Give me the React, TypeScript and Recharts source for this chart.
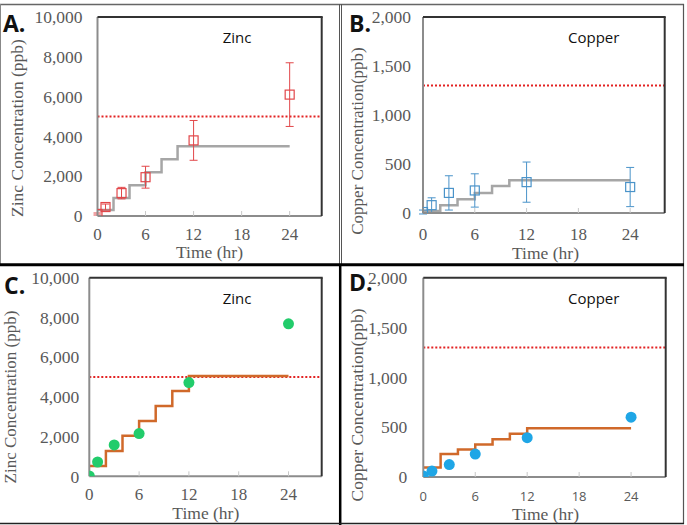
import React from 'react';
import { ComposedChart, Line, Scatter, ErrorBar, XAxis, YAxis, ReferenceLine } from 'recharts';

// sampling times (hr) for measured / predicted points
const HOURS = [0, 1, 3, 6, 12, 24];
// step boundaries for the model curves
const STEP_HOURS_TOP = [0, 2, 4, 6, 8, 10, 24];
const STEP_HOURS_BOTTOM = [0, 2, 4, 6, 8, 10, 12, 24];
const TIME_TICKS = [0, 6, 12, 18, 24];

const ZINC_TICKS = [0, 2000, 4000, 6000, 8000, 10000];
const COPPER_TICKS = [0, 500, 1000, 1500, 2000];
const ZINC_LIMIT = 5000;
const COPPER_LIMIT = 1300;

// A. zinc, measured with std. dev.
const zincMeasured = [100, 450, 1150, 1950, 3800, 6100];
const zincMeasuredSd = [50, 150, 290, 550, 1000, 1600];
const zincStepA = [300, 900, 1550, 2200, 2850, 3500, 3500];

// B. copper, measured with std. dev.
const copperMeasured = [10, 80, 205, 230, 315, 265];
const copperMeasuredSd = [20, 75, 175, 170, 205, 200];
const copperStepB = [20, 80, 140, 205, 275, 335, 335];

// C. zinc, predicted
const zincPredicted = [20, 720, 1580, 2150, 4720, 7680];
const zincStepC = [520, 1280, 2040, 2780, 3540, 4290, 5050, 5050];

// D. copper, predicted
const copperPredicted = [10, 60, 125, 230, 395, 600];
const copperStepD = [95, 230, 275, 325, 380, 435, 490, 490];

const GREY_TEXT = '#595959';
const SERIF = '"Liberation Serif", "Times New Roman", serif';
const SANS = '"Open Sans", Arial, sans-serif';
const X_MAX = 28;

type Rect = { l: number; t: number; r: number; b: number };

// page-space boxes for each panel and its plotting area
const BOX_A: Rect = { l: 0, t: 0, r: 340, b: 262 };
const BOX_B: Rect = { l: 340, t: 0, r: 684, b: 262 };
const BOX_C: Rect = { l: 0, t: 264, r: 340, b: 525 };
const BOX_D: Rect = { l: 340, t: 264, r: 684, b: 525 };
const PLOT_A: Rect = { l: 97.5, t: 17, r: 321.7, b: 216 };
const PLOT_B: Rect = { l: 423, t: 17, r: 664.7, b: 213 };
const PLOT_C: Rect = { l: 89.3, t: 277.7, r: 321.7, b: 476.3 };
const PLOT_D: Rect = { l: 423.3, t: 277.7, r: 665.7, b: 477 };

interface PanelProps {
  box: Rect;
  plot: Rect;
  yTicks: number[];
  limit: number;
  stepHours: number[];
  stepValues: number[];
  stepColor: string;
  points: number[];
  sd?: number[];
  markerColor: string;
  marker: 'square' | 'circle';
  yTickGap: number;
  xTickMargin: number;
  xTickFont: { fontFamily: string; fontSize: number };
}

const fmt = (v: number) => v.toLocaleString('en-US');

function Panel(p: PanelProps) {
  const width = p.box.r - p.box.l;
  const height = p.box.b - p.box.t;
  const xAxisH = 30;
  const yAxisW = 60;
  const margin = {
    top: p.plot.t - p.box.t,
    right: p.box.r - p.plot.r,
    bottom: p.box.b - p.plot.b - xAxisH,
    left: p.plot.l - p.box.l - yAxisW,
  };
  const stepData = p.stepHours.map((t, i) => ({ t, v: p.stepValues[i] }));
  const pointData = HOURS.map((t, i) => ({ t, v: p.points[i], err: p.sd ? p.sd[i] : 0 }));
  const yMax = p.yTicks[p.yTicks.length - 1];

  const shape = (props: any) =>
    p.marker === 'square' ? (
      <rect x={props.cx - 4.5} y={props.cy - 4.5} width={9} height={9} fill="none" stroke={p.markerColor} strokeWidth={1.2} />
    ) : (
      <circle cx={props.cx} cy={props.cy} r={5.5} fill={p.markerColor} />
    );

  return (
    <div style={{ position: 'absolute', left: p.box.l, top: p.box.t }}>
      <ComposedChart width={width} height={height} margin={margin}>
        <XAxis
          dataKey="t"
          type="number"
          domain={[0, X_MAX]}
          ticks={TIME_TICKS}
          allowDataOverflow
          height={xAxisH}
          axisLine={{ stroke: '#8c8c8c', strokeWidth: 2 }}
          tickLine={{ stroke: '#c8c8c8', strokeWidth: 1 }}
          tickSize={-5}
          tickMargin={p.xTickMargin}
          tick={{ fill: GREY_TEXT, ...p.xTickFont }}
        />
        <YAxis
          type="number"
          domain={[0, yMax]}
          ticks={p.yTicks}
          allowDataOverflow
          width={yAxisW}
          axisLine={{ stroke: '#8c8c8c', strokeWidth: 2 }}
          tickLine={false}
          tickSize={0}
          tickMargin={p.yTickGap}
          tickFormatter={fmt}
          tick={{ fill: GREY_TEXT, fontFamily: SERIF, fontSize: 17.5 }}
        />
        <ReferenceLine y={p.limit} stroke="#e32222" strokeWidth={2} strokeDasharray="2 2" />
        <Line
          data={stepData}
          dataKey="v"
          type="stepAfter"
          stroke={p.stepColor}
          strokeWidth={2.5}
          dot={false}
          activeDot={false}
          isAnimationActive={false}
        />
        <Scatter data={pointData} dataKey="v" shape={shape} isAnimationActive={false}>
          {p.sd && <ErrorBar dataKey="err" direction="y" width={4} stroke={p.markerColor} strokeWidth={1} />}
        </Scatter>
      </ComposedChart>
    </div>
  );
}

const serifTick = { fontFamily: SERIF, fontSize: 17 };

// dark top and right edges of a plotting area
function PlotEdges({ r }: { r: Rect }) {
  return (
    <>
      <line x1={r.l} y1={r.t} x2={r.r + 1} y2={r.t} stroke="#333" strokeWidth={2} />
      <line x1={r.r} y1={r.t} x2={r.r} y2={r.b} stroke="#333" strokeWidth={2} />
    </>
  );
}

export default function App() {
  const labelStyle = { fill: GREY_TEXT, fontFamily: SERIF };
  return (
    <div style={{ position: 'fixed', left: 0, top: 0, width: 687, height: 525, background: '#fff' }}>
      <Panel
        box={BOX_A}
        plot={PLOT_A}
        yTicks={ZINC_TICKS}
        limit={ZINC_LIMIT}
        stepHours={STEP_HOURS_TOP}
        stepValues={zincStepA}
        stepColor="#a6a6a6"
        points={zincMeasured}
        sd={zincMeasuredSd}
        markerColor="#e2474a"
        marker="square"
        yTickGap={15}
        xTickMargin={16.5}
        xTickFont={serifTick}
      />
      <Panel
        box={BOX_B}
        plot={PLOT_B}
        yTicks={COPPER_TICKS}
        limit={COPPER_LIMIT}
        stepHours={STEP_HOURS_TOP}
        stepValues={copperStepB}
        stepColor="#a6a6a6"
        points={copperMeasured}
        sd={copperMeasuredSd}
        markerColor="#4a93c9"
        marker="square"
        yTickGap={12}
        xTickMargin={19.5}
        xTickFont={serifTick}
      />
      <Panel
        box={BOX_C}
        plot={PLOT_C}
        yTicks={ZINC_TICKS}
        limit={ZINC_LIMIT}
        stepHours={STEP_HOURS_BOTTOM}
        stepValues={zincStepC}
        stepColor="#d0692a"
        points={zincPredicted}
        markerColor="#22cc6b"
        marker="circle"
        yTickGap={10}
        xTickMargin={17}
        xTickFont={serifTick}
      />
      <Panel
        box={BOX_D}
        plot={PLOT_D}
        yTicks={COPPER_TICKS}
        limit={COPPER_LIMIT}
        stepHours={STEP_HOURS_BOTTOM}
        stepValues={copperStepD}
        stepColor="#d0692a"
        points={copperPredicted}
        markerColor="#1fa6e6"
        marker="circle"
        yTickGap={16}
        xTickMargin={19.5}
        xTickFont={{ fontFamily: SANS, fontSize: 13 }}
      />

      {/* frame, plot edges, panel letters, titles and axis captions */}
      <svg width={687} height={525} style={{ position: 'absolute', left: 0, top: 0, pointerEvents: 'none' }}>
        <line x1={0} y1={4.5} x2={684} y2={4.5} stroke="#666" strokeWidth={1.5} />
        <line x1={0.5} y1={4} x2={0.5} y2={264} stroke="#888" strokeWidth={1} />
        <line x1={339.5} y1={4} x2={339.5} y2={264} stroke="#555" strokeWidth={1} />
        <line x1={341.5} y1={4} x2={341.5} y2={264} stroke="#555" strokeWidth={1} />
        <line x1={683.5} y1={4} x2={683.5} y2={524} stroke="#555" strokeWidth={1.2} />
        <line x1={0} y1={264.7} x2={684} y2={264.7} stroke="#000" strokeWidth={3} />
        <line x1={340.2} y1={264} x2={340.2} y2={525} stroke="#000" strokeWidth={2.5} />
        <line x1={0} y1={523.5} x2={684} y2={523.5} stroke="#222" strokeWidth={1.5} />

        <PlotEdges r={PLOT_A} />
        <PlotEdges r={PLOT_B} />
        <PlotEdges r={PLOT_C} />
        <PlotEdges r={PLOT_D} />

        <g fontFamily={SANS} fontWeight={700} fontSize={23} fill="#111">
          <text x={3} y={32}>A.</text>
          <text x={349} y={32}>B.</text>
          <text x={4} y={294}>C.</text>
          <text x={349} y={291}>D.</text>
        </g>

        <g fontFamily={SANS} fontSize={15} fill="#111">
          <text x={222.7} y={43}>Zinc</text>
          <text x={568} y={43}>Copper</text>
          <text x={222.7} y={303.7}>Zinc</text>
          <text x={568} y={303.7}>Copper</text>
        </g>

        <g {...labelStyle} fontSize={17.5} textAnchor="middle">
          <text x={209.5} y={258}>Time (hr)</text>
          <text x={545.5} y={258.5}>Time (hr)</text>
          <text x={205.8} y={519}>Time (hr)</text>
          <text x={545.5} y={519.5}>Time (hr)</text>
          <text transform="translate(23,128) rotate(-90)">Zinc Concentration (ppb)</text>
          <text transform="translate(15.5,397) rotate(-90)" fontSize={17}>Zinc Concentration (ppb)</text>
          <text transform="translate(362.5,141) rotate(-90)" fontSize={17}>Copper Concentration(ppb)</text>
          <text transform="translate(362.5,405) rotate(-90)">Copper Concentration(ppb)</text>
        </g>
      </svg>
    </div>
  );
}
